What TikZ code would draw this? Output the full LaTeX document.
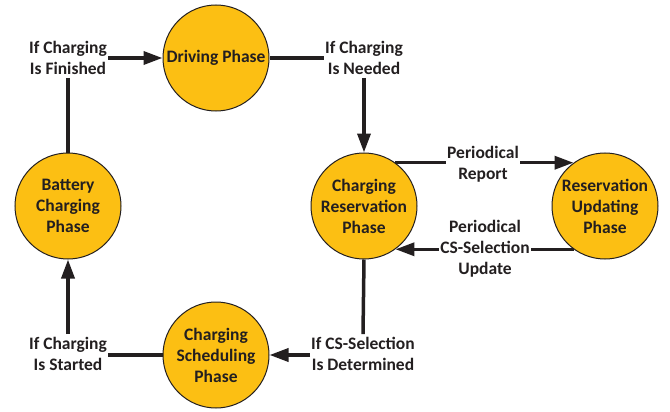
\documentclass[tikz,border=0pt]{standalone}
\usepackage{fontspec}
\setmainfont{Carlito}
\usetikzlibrary{arrows.meta}
\definecolor{ink}{HTML}{231F20}
\definecolor{gold}{HTML}{FCBF13}
\begin{document}
\begin{tikzpicture}[x=1pt,y=-1pt,
  phase/.style={circle,draw=ink,line width=1pt,fill=gold,minimum size=106pt,inner sep=0pt,align=center,text=ink,font=\bfseries\fontsize{17.5}{21}\selectfont},
  cond/.style={align=center,text=ink,font=\bfseries\fontsize{17.5}{21}\selectfont,inner xsep=1pt,inner ysep=3pt},
  link/.style={draw=ink,line width=3.5pt},
  arr/.style={link,-{Triangle[length=19pt,width=13pt]}}]
\useasboundingbox (0,0) rectangle (670,412);
\node[phase] (drv) at (216,58) {Driving Phase};
\node[phase] (bat) at (68,206) {Battery\\Charging\\Phase};
\node[phase] (res) at (364,206) {Charging\\Reservation\\Phase};
\node[phase] (upd) at (605,206) {Reservation\\Updating\\Phase};
\node[phase] (sch) at (216,355) {Charging\\Scheduling\\Phase};
\node[cond] (cfin) at (68,58) {If Charging\\Is Finished};
\node[cond] (cneed) at (364,58) {If Charging\\Is Needed};
\node[cond] (rep) at (483,164) {Periodical\\Report};
\node[cond] (csu) at (485,249) {Periodical\\CS-Selection\\Update};
\node[cond] (cdet) at (363,354) {If CS-Selection\\Is Determined};
\node[cond] (cst) at (68,354) {If Charging\\Is Started};
\draw[arr] (cfin.east) -- (drv.west);
\draw[link] (cfin.south) -- (bat.north);
\draw[link] (drv.east) -- (cneed.west);
\draw[arr] (cneed.south) -- (res.north);
\draw[link] (res.54) -- (rep.west |- res.54);
\draw[arr] (rep.east |- res.54) -- (upd.126);
\draw[link] (upd.234) -- (csu.east |- upd.234);
\draw[arr] (csu.west |- res.-54) -- (res.-54);
\draw[link] (res.south) -- (cdet.north);
\draw[arr] (cdet.west |- sch.east) -- (sch.east);
\draw[link] (cst.east |- sch.west) -- (sch.west);
\draw[arr] (cst.north) -- (bat.south);
\end{tikzpicture}
\end{document}
